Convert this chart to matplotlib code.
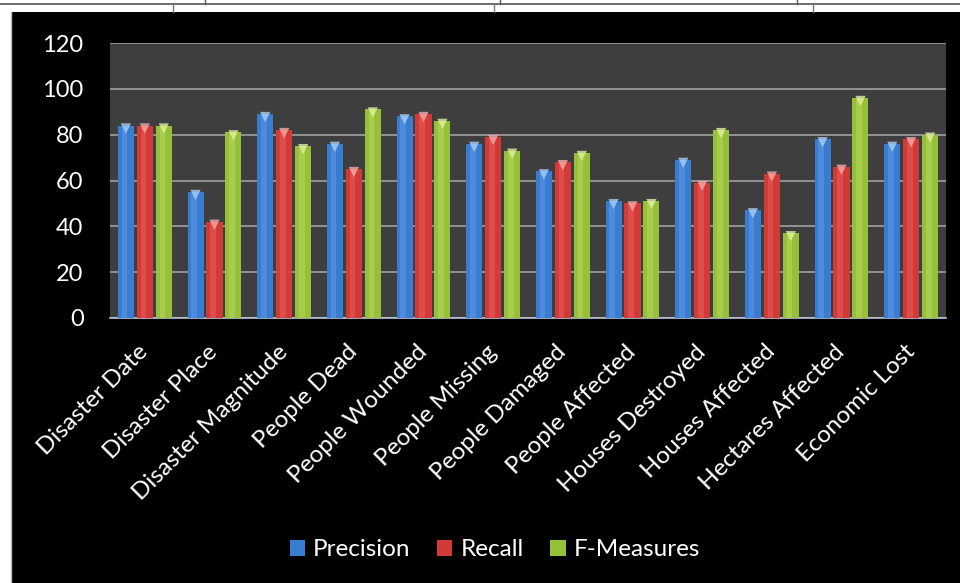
import numpy as np
import matplotlib
matplotlib.use("Agg")
import matplotlib.pyplot as plt
from matplotlib.lines import Line2D
from matplotlib.patches import Rectangle

categories = ["Disaster Date", "Disaster Place", "Disaster Magnitude", "People Dead",
              "People Wounded", "People Missing", "People Damaged", "People Affected",
              "Houses Destroyed", "Houses Affected", "Hectares Affected", "Economic Lost"]
precision = [84, 55, 89, 76, 88, 76, 64, 51, 69, 47, 78, 76]
recall = [84, 42, 82, 65, 89, 79, 68, 50, 59, 63, 66, 78]
f_measures = [84, 81, 75, 91, 86, 73, 72, 51, 82, 37, 96, 80]
series_names = ["Precision", "Recall", "F-Measures"]
yticks = [0, 20, 40, 60, 80, 100, 120]

colors = ["#3a7cd0", "#d23a38", "#96c03a"]
highlights = ["#6aa6f0", "#f06a66", "#c4e066"]
caps = ["#a8cdf5", "#f5aaa8", "#e0f0a0"]

plt.rcParams["font.family"] = ["Lato", "DejaVu Sans"]

fig = plt.figure(figsize=(9.6, 5.83), dpi=100)
fig.patch.set_facecolor("white")

# black panel of the pasted chart, with the scanned page table lines above
fig.add_artist(Rectangle((11 / 960, 0), 1, 1 - 12 / 583, transform=fig.transFigure,
                         facecolor="black", edgecolor="none", zorder=-5))
fig.add_artist(Line2D([0, 1], [1 - 4 / 583] * 2, color="#555555", lw=1.2))
fig.add_artist(Line2D([11 / 960, 11 / 960], [0, 1 - 12 / 583], color="#bbbbbb", lw=1))
for xv in [205, 500, 797]:
    fig.add_artist(Line2D([xv / 960] * 2, [1, 1 - 4 / 583], color="#555555", lw=1))
for xv in [173, 494, 813]:
    fig.add_artist(Line2D([xv / 960] * 2, [1 - 5 / 583, 1 - 12 / 583], color="#777777", lw=1))

ax = fig.add_axes([110 / 960, 1 - 318 / 583, 836 / 960, 275 / 583])
ax.set_zorder(2)
ax.set_facecolor("#3e3e3e")
ax.set_xlim(-0.5, len(categories) - 0.5)
ax.set_ylim(0, 120)

x = np.arange(len(categories))
step = 0.272
width = 0.23
for i, vals in enumerate([precision, recall, f_measures]):
    xs = x + (i - 1) * step
    ax.bar(xs, vals, width=width, color=colors[i], zorder=3, label=series_names[i])
    ax.bar(xs - 0.02, vals, width=width * 0.35, color=highlights[i], alpha=0.4, zorder=4)
    ax.scatter(xs, np.array(vals) - 1.3, marker="v", s=55, color=caps[i], alpha=0.8,
               edgecolors="none", zorder=5)

ax.set_yticks(yticks)
ax.yaxis.grid(True, color="#a0a0a0", lw=1.2)
ax.set_axisbelow(True)
ax.tick_params(axis="y", length=0, pad=19, labelsize=17, labelcolor="white")
ax.tick_params(axis="x", length=0, pad=22, labelsize=17.5, labelcolor="white")
ax.set_xticks(x)
ax.set_xticklabels(categories, rotation=45, ha="right", va="center", rotation_mode="anchor")
for s in ["top", "left", "right"]:
    ax.spines[s].set_visible(False)
ax.spines["bottom"].set_color("#b8c4d8")
ax.spines["bottom"].set_linewidth(1.2)

leg = fig.legend(loc="center", bbox_to_anchor=(495 / 960, 1 - 550 / 583), ncol=3,
                 frameon=False, fontsize=17.5, labelcolor="white", handlelength=0.62,
                 handleheight=0.62, handletextpad=0.33, columnspacing=1.1)
leg.set_zorder(3)

fig.savefig("out.png", dpi=100, facecolor=fig.get_facecolor())
